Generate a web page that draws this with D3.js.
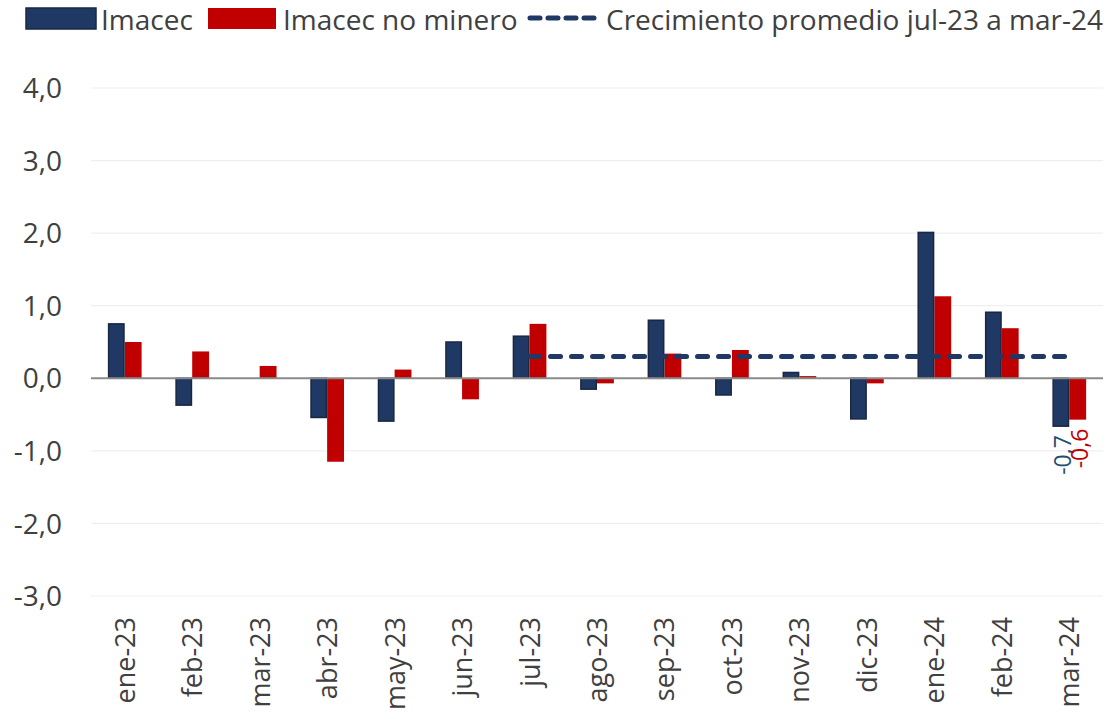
<!DOCTYPE html>
<html>
<head>
<meta charset="utf-8">
<script src="https://cdn.jsdelivr.net/npm/d3@7"></script>
<style>
  body { margin: 0; background: #fff; }
  text { font-family: 'Open Sans', sans-serif; fill: #404040; }
</style>
</head>
<body>
<script>
const months = ['ene-23', 'feb-23', 'mar-23', 'abr-23', 'may-23', 'jun-23', 'jul-23',
  'ago-23', 'sep-23', 'oct-23', 'nov-23', 'dic-23', 'ene-24', 'feb-24', 'mar-24']
const imacec = [0.75, -0.37, 0.0, -0.54, -0.59, 0.50, 0.58, -0.15, 0.80, -0.23, 0.08, -0.56, 2.01, 0.91, -0.66]
const noMinero = [0.50, 0.37, 0.17, -1.15, 0.12, -0.29, 0.75, -0.07, 0.34, 0.39, 0.03, -0.07, 1.13, 0.69, -0.57]
const avgGrowth = 0.30
const avgFrom = 'jul-23'
const avgTo = 'mar-24'
const yTicks = [4, 3, 2, 1, 0, -1, -2, -3]

const width = 1115
const height = 721
const margin = { top: 88, right: 12, bottom: 125, left: 91 }

const navy = '#203864'
const red = '#c00000'
const fmt = v => d3.format('.1f')(v).replace('.', ',').replace('\u2212', '-')

const svg = d3.select('body').append('svg')
  .attr('width', width)
  .attr('height', height)

const x = d3.scaleBand()
  .domain(months)
  .range([margin.left, width - margin.right])
  .paddingInner(0.5)
  .paddingOuter(0.25)

const x1 = d3.scaleBand()
  .domain(['imacec', 'noMinero'])
  .range([0, x.bandwidth()])

const y = d3.scaleLinear()
  .domain([-3, 4])
  .range([height - margin.bottom, margin.top])

// Gridlines
svg.append('g')
  .selectAll('line')
  .data(yTicks.filter(d => d !== 0))
  .join('line')
  .attr('x1', margin.left)
  .attr('x2', width - margin.right)
  .attr('y1', d => y(d))
  .attr('y2', d => y(d))
  .attr('stroke', '#efefef')
  .attr('stroke-width', 1.2)

// Y labels
svg.append('g')
  .selectAll('text')
  .data(yTicks)
  .join('text')
  .attr('x', 62)
  .attr('y', d => y(d))
  .attr('dy', '0.36em')
  .attr('text-anchor', 'end')
  .style('font-size', '28px')
  .text(fmt)

const rows = months.map((m, i) => ({ m, imacec: imacec[i], noMinero: noMinero[i] }))

// Bars
const groups = svg.append('g')
  .selectAll('g')
  .data(rows)
  .join('g')
  .attr('transform', d => `translate(${x(d.m)},0)`)

groups.append('rect')
  .attr('x', x1('noMinero'))
  .attr('width', x1.bandwidth())
  .attr('y', d => y(Math.max(0, d.noMinero)))
  .attr('height', d => Math.abs(y(d.noMinero) - y(0)))
  .attr('fill', red)

groups.filter(d => d.imacec !== 0).append('rect')
  .attr('x', x1('imacec') + 0.75)
  .attr('width', x1.bandwidth() - 1.5)
  .attr('y', d => y(Math.max(0, d.imacec)))
  .attr('height', d => Math.abs(y(d.imacec) - y(0)))
  .attr('fill', navy)
  .attr('stroke', '#1a2740')
  .attr('stroke-width', 1.5)

// Zero line
svg.append('line')
  .attr('x1', margin.left)
  .attr('x2', width - margin.right)
  .attr('y1', y(0))
  .attr('y2', y(0))
  .attr('stroke', '#8a8a8a')
  .attr('stroke-width', 2)

// Average line
const cx = m => x(m) + x.bandwidth() / 2
svg.append('line')
  .attr('x1', cx(avgFrom))
  .attr('x2', cx(avgTo))
  .attr('y1', y(avgGrowth))
  .attr('y2', y(avgGrowth))
  .attr('stroke', navy)
  .attr('stroke-width', 5)
  .attr('stroke-linecap', 'round')
  .attr('stroke-dasharray', '10 11')

// Last value labels
const last = rows[rows.length - 1]
const labels = [
  { key: 'imacec', v: last.imacec, color: '#1f4e6e' },
  { key: 'noMinero', v: last.noMinero, color: red },
]
svg.append('g')
  .selectAll('text')
  .data(labels)
  .join('text')
  .attr('transform', d => `translate(${x(last.m) + x1(d.key) + x1.bandwidth() / 2 + 10},${y(d.v) + 9}) rotate(-90)`)
  .attr('text-anchor', 'end')
  .style('font-size', '23px')
  .style('fill', d => d.color)
  .text(d => fmt(d.v))

// X labels
svg.append('g')
  .selectAll('text')
  .data(months)
  .join('text')
  .attr('transform', d => `translate(${cx(d) + 10},${617}) rotate(-90)`)
  .attr('text-anchor', 'end')
  .style('font-size', '27px')
  .text(d => d)

// Legend
const legend = svg.append('g')
legend.append('rect')
  .attr('x', 26).attr('y', 8).attr('width', 70).attr('height', 21)
  .attr('fill', navy).attr('stroke', '#1a2740').attr('stroke-width', 1.5)
legend.append('text')
  .attr('x', 101).attr('y', 30)
  .style('font-size', '28px').text('Imacec')
legend.append('rect')
  .attr('x', 208).attr('y', 8).attr('width', 68).attr('height', 21)
  .attr('fill', red)
legend.append('text')
  .attr('x', 283).attr('y', 30)
  .style('font-size', '28px').text('Imacec no minero')
legend.append('line')
  .attr('x1', 530).attr('x2', 598).attr('y1', 18).attr('y2', 18)
  .attr('stroke', navy).attr('stroke-width', 5)
  .attr('stroke-linecap', 'round').attr('stroke-dasharray', '10 8')
legend.append('text')
  .attr('x', 606).attr('y', 30)
  .style('font-size', '28px').text('Crecimiento promedio jul-23 a mar-24')
</script>
</body>
</html>
